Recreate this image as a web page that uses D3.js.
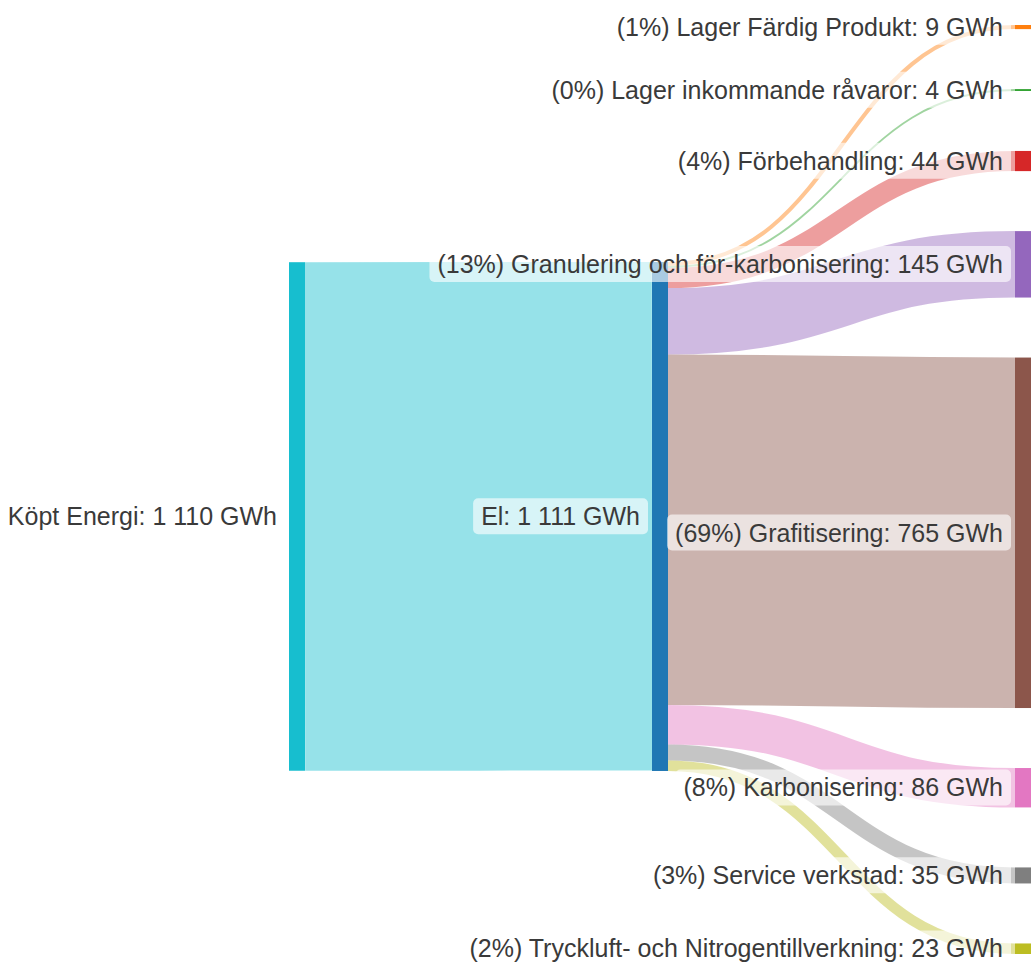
<!DOCTYPE html>
<html>
<head>
<meta charset="utf-8">
<script src="https://cdn.jsdelivr.net/npm/d3@7"></script>
<style>
  html, body { margin: 0; padding: 0; background: #ffffff; }
  svg { display: block; }
  text { font-family: "Liberation Sans", Arial, Helvetica, sans-serif; }
</style>
</head>
<body>
<svg id="chart" width="1035" height="962"></svg>
<script>
// Energy flow (GWh): purchased energy -> electricity -> processes
const nodeNames = [
  "El",
  "Lager Färdig Produkt",
  "Lager inkommande råvaror",
  "Förbehandling",
  "Granulering och för-karbonisering",
  "Grafitisering",
  "Karbonisering",
  "Service verkstad",
  "Tryckluft- och Nitrogentillverkning",
  "Köpt Energi"
];
const linkSources = ["Köpt Energi", "El", "El", "El", "El", "El", "El", "El", "El"];
const linkTargets = [
  "El",
  "Lager Färdig Produkt",
  "Lager inkommande råvaror",
  "Förbehandling",
  "Granulering och för-karbonisering",
  "Grafitisering",
  "Karbonisering",
  "Service verkstad",
  "Tryckluft- och Nitrogentillverkning"
];
const linkValues = [1110, 9, 4, 44, 145, 765, 86, 35, 23];
const unit = "GWh";

// ---- geometry ----
const W = 1035, H = 962;
const extent = { left: 289, right: 1031, top: 25, bottom: 954 };
const nodeWidth = 16;
const nodePadding = 60;
const labelGap = 12;

const color = d3.scaleOrdinal().domain(nodeNames).range(d3.schemeCategory10);
const numLocale = d3.formatLocale({ decimal: ",", thousands: " ", grouping: [3], currency: ["", " kr"] });
const fmtNum = numLocale.format(",d");
const fmtPct = d3.format(".0%");

// ---- build graph ----
const nodes = nodeNames.map(name => ({ name, sourceLinks: [], targetLinks: [] }));
const byName = new Map(nodes.map(n => [n.name, n]));
const links = linkValues.map((value, i) => ({
  source: byName.get(linkSources[i]),
  target: byName.get(linkTargets[i]),
  value
}));
links.forEach(l => { l.source.sourceLinks.push(l); l.target.targetLinks.push(l); });
nodes.forEach(n => {
  n.value = Math.max(d3.sum(n.sourceLinks, l => l.value), d3.sum(n.targetLinks, l => l.value));
});

// depth = longest path from a root
function depthOf(n) {
  if (n.depth !== undefined) return n.depth;
  n.depth = n.targetLinks.length ? d3.max(n.targetLinks, l => depthOf(l.source) + 1) : 0;
  return n.depth;
}
nodes.forEach(depthOf);
const maxDepth = d3.max(nodes, n => n.depth);
const columns = d3.range(maxDepth + 1).map(d => nodes.filter(n => n.depth === d));

const x = d3.scaleLinear().domain([0, maxDepth]).range([extent.left, extent.right - nodeWidth]);
nodes.forEach(n => { n.x0 = x(n.depth); n.x1 = n.x0 + nodeWidth; });

// vertical value scale fitted to the busiest column
const ky = d3.min(columns, c =>
  (extent.bottom - extent.top - (c.length - 1) * nodePadding) / d3.sum(c, n => n.value));
const h = d3.scaleLinear().domain([0, 1]).range([0, ky]);

// the busiest column is stacked from the top
const densest = d3.maxIndex(columns, c => c.length);
{
  let y = extent.top;
  columns[densest].forEach(n => { n.y0 = y; n.y1 = y + h(n.value); y = n.y1 + nodePadding; });
}
// other columns sit at the value-weighted centre of their neighbours
const centre = n => (n.y0 + n.y1) / 2;
for (let d = densest - 1; d >= 0; d--) {
  columns[d].forEach(n => {
    const c = d3.sum(n.sourceLinks, l => centre(l.target) * l.value) / d3.sum(n.sourceLinks, l => l.value);
    n.y0 = c - h(n.value) / 2; n.y1 = c + h(n.value) / 2;
  });
}
for (let d = densest + 1; d <= maxDepth; d++) {
  columns[d].forEach(n => {
    const c = d3.sum(n.targetLinks, l => centre(l.source) * l.value) / d3.sum(n.targetLinks, l => l.value);
    n.y0 = c - h(n.value) / 2; n.y1 = c + h(n.value) / 2;
  });
}

// link widths, then attachment points on both ends
links.forEach(l => { l.width = h(l.value); });
nodes.forEach(n => {
  n.sourceLinks.sort((a, b) => a.target.y0 - b.target.y0);
  n.targetLinks.sort((a, b) => a.source.y0 - b.source.y0);
  let y = n.y0;
  n.sourceLinks.forEach(l => { l.y0 = y + l.width / 2; y += l.width; });
  y = n.y0;
  n.targetLinks.forEach(l => { l.y1 = y + l.width / 2; y += l.width; });
});

const totalOut = d3.sum(byName.get("El").sourceLinks, l => l.value);
function labelOf(n) {
  const base = `${n.name}: ${fmtNum(n.value)} ${unit}`;
  return n.sourceLinks.length ? base : `(${fmtPct(n.value / totalOut)}) ${base}`;
}

// ---- draw ----
const svg = d3.select("#chart");

const linkPath = d3.linkHorizontal()
  .source(l => [l.source.x1, l.y0])
  .target(l => [l.target.x0, l.y1]);

svg.append("g")
  .attr("fill", "none")
  .selectAll("path")
  .data(links)
  .join("path")
  .attr("d", linkPath)
  .attr("stroke", l => color(l.source.targetLinks.length ? l.target.name : l.source.name))
  .attr("stroke-opacity", 0.45)
  .attr("stroke-width", l => Math.max(1, l.width));

svg.append("g")
  .selectAll("rect")
  .data(nodes)
  .join("rect")
  .attr("x", n => n.x0)
  .attr("y", n => n.y0)
  .attr("width", n => n.x1 - n.x0)
  .attr("height", n => Math.max(1, n.y1 - n.y0))
  .attr("fill", n => color(n.name));

const labels = svg.append("g")
  .selectAll("g")
  .data(nodes)
  .join("g");

const texts = labels.append("text")
  .attr("x", n => n.x0 - labelGap)
  .attr("y", n => (n.y0 + n.y1) / 2)
  .attr("dy", "0.35em")
  .attr("text-anchor", "end")
  .attr("font-size", 25)
  .attr("fill", "#3a3a3a")
  .text(labelOf);

texts.each(function () {
  const b = this.getBBox();
  d3.select(this.parentNode).insert("rect", "text")
    .attr("x", b.x - 8)
    .attr("y", b.y - 4)
    .attr("width", b.width + 16)
    .attr("height", b.height + 8)
    .attr("rx", 5)
    .attr("fill", "#ffffff")
    .attr("fill-opacity", 0.62);
});
</script>
</body>
</html>
